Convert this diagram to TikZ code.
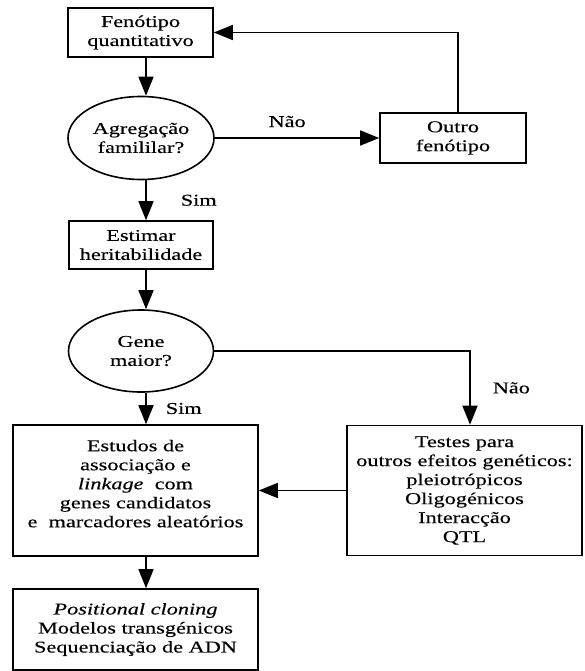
\documentclass[tikz,border=0pt]{standalone}
\usepackage{fontspec}
\setmainfont{Liberation Serif}[FakeStretch=1.35,FakeBold=0.3]
\usetikzlibrary{arrows.meta,shapes.geometric}

\begin{document}
\begin{tikzpicture}[x=1pt,y=-1pt,
        font=\fontsize{16.5}{19}\selectfont,
        line width=1.6pt,
        caixa/.style={draw,rectangle,align=center,inner sep=0pt},
        pergunta/.style={draw,ellipse,align=center,inner sep=0pt},
        rotulo/.style={inner sep=0pt},
        seta/.style={-{Triangle[length=19pt,width=15pt]}}]
    \useasboundingbox (0,0) rectangle (585,671);
    \coordinate (eixo) at (146,0);
    \coordinate (volta) at (458,0);
    \coordinate (saida) at (470,0);
    % caixas e perguntas
    \node[caixa,minimum width=145pt,minimum height=49pt] (fen) at (140.5,32.5) {Fenótipo\\quantitativo};
    \node[pergunta,minimum width=146pt,minimum height=83pt] (agreg) at (141,138) {Agregação\\famililar?};
    \node[caixa,minimum width=146pt,minimum height=50pt] (outro) at (453,138) {Outro\\fenótipo};
    \node[caixa,minimum width=144pt,minimum height=48pt] (estimar) at (141,245) {Estimar\\heritabilidade};
    \node[pergunta,minimum width=145pt,minimum height=82pt] (gene) at (141,351) {Gene\\maior?};
    \node[caixa,minimum width=245pt,minimum height=131pt] (estudos) at (135.5,490.5)
        {Estudos de\\associação e\\\textit{linkage}\ \ com\\genes candidatos\\e\ \ marcadores aleatórios\\[-5pt]\mbox{}};
    \node[caixa,minimum width=235pt,minimum height=130pt] (testes) at (464.5,490.5)
        {Testes para\\outros efeitos genéticos:\\pleiotrópicos\\Oligogénicos\\Interacção\\QTL};
    \node[caixa,minimum width=245pt,minimum height=81pt] (posic) at (135.5,629.5)
        {\textit{Positional cloning}\\Modelos transgénicos\\Sequenciação de ADN};
    % ligacoes
    \draw[seta] (fen.south -| eixo) -- (agreg.north -| eixo);
    \draw[seta] (agreg) -- node[rotulo,pos=0.44,above=10pt] {Não} (outro);
    \draw[seta] (outro.north -| volta) |- (fen.east);
    \draw[seta] (agreg.south -| eixo) -- node[rotulo,right=34pt] {Sim} (estimar.north -| eixo);
    \draw[seta] (estimar.south -| eixo) -- (gene.north -| eixo);
    \draw[seta] (gene.east) -| node[rotulo,pos=0.75,right=22pt] {Não} (testes.north -| saida);
    \draw[seta] (gene.south -| eixo) -- node[rotulo,right=19pt] {Sim} (estudos.north -| eixo);
    \draw[seta] (testes) -- (estudos);
    \draw[seta] (estudos.south -| eixo) -- (posic.north -| eixo);
\end{tikzpicture}
\end{document}
